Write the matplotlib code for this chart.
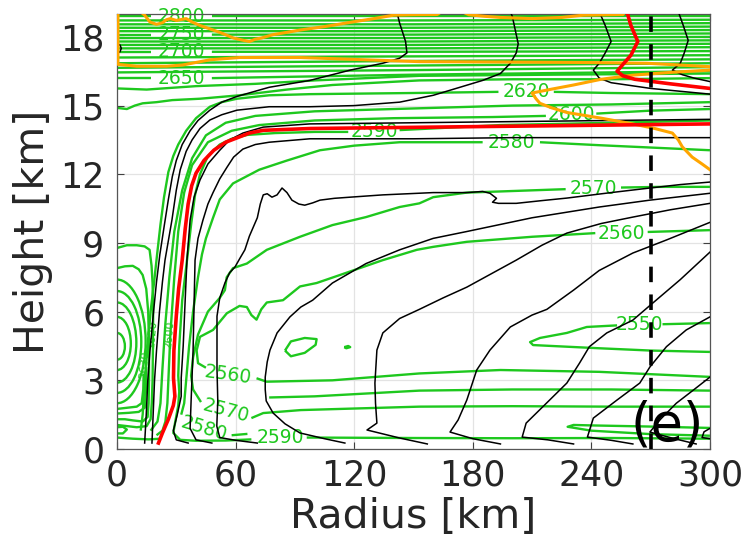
import numpy as np
import matplotlib
matplotlib.use("Agg")
import matplotlib.pyplot as plt
from matplotlib.patches import Arc

# colours
GREEN = '#1ec81e'
ORANGE = '#ffa500'
RED = '#ff0000'

# ---- black contours (radius km, height km) ----
k1 = [(14, 0.26), (14.8, 1.5), (15.6, 3.0), (16.7, 4.3), (18.5, 6.0), (20, 7.3), (21.7, 8.5), (24, 9.8),
      (26, 10.9), (28, 11.9), (30, 12.6), (33, 13.3), (37, 13.9), (41, 14.35), (47, 14.8), (53, 15.15),
      (60.7, 15.4), (77, 15.8), (97.6, 16.1), (118, 16.55), (134.5, 16.85), (143, 17.07), (146.7, 17.3),
      (146, 17.8), (144.7, 18.15), (143, 18.6), (141.6, 19.1)]
k2 = [(17.7, 0.26), (18.3, 1.5), (19, 3.0), (20, 4.3), (21.5, 6.0), (23, 7.3), (24.3, 8.25), (27.8, 10.0),
      (30, 11.3), (32, 12.2), (35, 13.0), (38, 13.5), (42, 14.0), (47, 14.37), (53, 14.6), (60.7, 14.8),
      (77, 14.95), (97.6, 14.95), (120, 15.0), (143, 15.15), (160, 15.45), (173.5, 15.8), (185, 16.1),
      (194, 16.4), (199, 16.85), (202, 17.3), (203, 17.7), (201.5, 18.3), (200, 18.9), (199, 19.1)]
k3 = [(36, 0.26), (30, 0.4), (28.5, 0.8), (30.5, 1.5), (32.5, 2.3), (32.5, 3.1), (33.5, 4.5), (34.5, 6.5),
      (35.4, 8.25), (37, 10.0), (39, 11.0), (42, 11.75), (46, 12.45), (52, 13.05), (57, 13.5), (63.7, 13.8),
      (74, 14.06), (97.6, 14.2), (150, 14.25), (200, 14.3), (250, 14.35), (300, 14.4)]
k4 = [(48, 0.26), (40, 0.4), (37, 0.9), (37.5, 2.1), (38.5, 4.3), (39, 6.3), (39.5, 8.25), (41, 9.2),
      (43.5, 10.0), (46, 10.7), (48.6, 11.2), (52, 11.8), (55.6, 12.3), (59, 12.75), (63.7, 13.1), (70, 13.3),
      (77, 13.4), (97.6, 13.55), (150, 13.55), (200, 13.6), (250, 13.6), (300, 13.6)]
k5 = [(71, 0.26), (60, 0.38), (52, 0.5), (50.5, 1.0), (51, 2.1), (50.6, 3.5), (50.6, 5.8), (52, 6.6),
      (54.6, 7.25), (57, 7.7), (59.7, 7.95), (62, 8.3), (64.7, 8.7), (67, 9.3), (71, 10.1), (72.5, 10.7),
      (74, 11.1), (76, 11.15), (78.4, 11.0), (81, 11.1), (83.5, 11.4), (86, 11.2), (88.5, 10.87), (92, 10.7),
      (95, 10.65), (99, 10.75), (102.7, 10.87), (110, 10.95), (118, 11.0), (134.5, 11.1), (160, 11.2),
      (177, 11.2), (185, 11.25), (188.7, 11.17), (192, 10.95), (190, 10.78), (193, 10.73), (202, 10.73),
      (215, 10.85), (227.6, 10.96), (250, 11.2), (269.6, 11.4), (285, 11.55), (300, 11.66)]
k6 = [(115.3, 0.26), (105, 0.45), (92.6, 0.7), (85, 1.1), (79, 1.57), (75.5, 2.1), (75, 2.6), (75, 3.14),
      (76, 3.8), (77.4, 4.32), (81, 5.07), (87.5, 5.77), (93, 6.2), (99, 6.5), (109, 7.25), (126, 8.1),
      (143, 8.7), (160, 9.2), (177, 9.5), (210, 10.1), (244, 10.57), (269.6, 10.87), (300, 11.17)]
k7 = [(157, 0.22), (143, 0.48), (126.5, 0.83), (131.5, 1.13), (130.8, 2.0), (130.5, 2.88), (131.5, 4.32),
      (134.5, 5.07), (143, 5.7), (153, 6.1), (165, 6.6), (177, 7.07), (202, 8.25), (215, 8.9), (227.6, 9.43),
      (245, 9.85), (261, 10.13), (280, 10.45), (300, 10.73)]
k8 = [(194, 0.22), (180, 0.45), (168.5, 0.74), (172.6, 1.27), (177, 2.14), (182, 3.45), (188.7, 4.32),
      (199, 5.33), (210, 5.85), (217.5, 6.1), (231, 6.94), (244, 7.8), (261, 8.56), (278, 9.13), (300, 9.9)]
k9 = [(231, 0.22), (218, 0.4), (205, 0.52), (207, 1.13), (215.5, 1.85), (227.6, 2.88), (234, 3.75),
      (239, 4.47), (247.8, 5.07), (261, 5.63), (271, 6.37), (285, 7.4), (300, 8.6)]
k10 = [(261, 0.22), (250, 0.38), (238, 0.52), (241, 1.35), (253, 2.14), (264.5, 2.88), (269.6, 3.58),
       (278, 4.47), (288, 5.2), (300, 5.77)]
k11 = [(293, 0.22), (282, 0.45), (269.6, 0.74), (275, 1.3), (283, 2.0), (292, 2.6), (300, 3.14)]
k12 = [(300, 0.45), (296, 0.5), (297, 0.75), (300, 0.9)]
k_top3 = [(244, 19.1), (247, 18.5), (250, 17.8), (247, 17.3), (244, 16.85), (241, 16.55), (244, 16.2),
          (250, 16.0), (270, 15.75), (300, 15.5)]
k_top4 = [(284, 19.1), (286.5, 18.5), (289, 17.85), (287, 17.3), (285, 16.85), (281, 16.55), (286, 16.35),
          (292, 16.2), (300, 16.05)]
k_edge = [(0, 17.7), (1.5, 17.65), (2.2, 17.5), (1.5, 17.35), (0, 17.3)]

# ---- red and orange contours ----
red_low = [(21, 0.26), (23, 0.7), (26, 1.3), (28.5, 1.9), (29.3, 2.3), (28.6, 3.1), (28.8, 4.3), (30, 5.8),
           (31.2, 7.0), (33, 8.25), (34.5, 9.6), (36, 10.7), (37.8, 11.5), (40, 12.05), (44, 12.6), (49, 13.05),
           (55, 13.4), (61, 13.6), (67, 13.8), (74, 13.92), (98, 14.0), (150, 14.05), (200, 14.1), (250, 14.15),
           (300, 14.2)]
red_top = [(258, 19.1), (260, 18.5), (263.5, 17.8), (260, 17.2), (255, 16.7), (253, 16.5), (256, 16.3),
           (262, 16.15), (280, 15.95), (300, 15.75)]
orange_a = [(0.5, 19.1), (0.5, 16.8), (10, 16.72), (25, 16.72), (33, 16.77), (47, 17.0), (62, 17.1), (92.6, 17.1),
            (126, 17.0), (153, 16.92), (202, 16.9), (240, 16.88), (268, 16.85), (300, 16.7)]
orange_b = [(12, 19.1), (14, 18.95), (16.7, 18.65), (20, 18.55), (23, 18.62), (25, 18.75), (27, 18.8),
            (30, 18.72), (35, 18.8), (38, 18.65), (42, 18.5), (47, 18.35), (52, 18.2), (59, 17.95), (64, 17.85),
            (67, 17.8), (70, 17.9), (73, 17.95), (79, 18.1), (86, 18.2), (92.6, 18.3), (105, 18.45), (119, 18.65),
            (130, 18.8), (140, 18.95), (150, 18.97), (162, 18.98), (166, 19.2)]
orange_b2 = [(172, 19.2), (178, 18.97), (186, 18.9), (194, 18.85), (210, 18.8), (225, 18.85), (236, 18.95),
             (256, 18.98), (258, 19.2)]
orange_c = [(300, 16.55), (280, 16.45), (261, 16.33), (245, 16.15), (231, 15.9), (220, 15.72), (210, 15.55),
            (212, 15.3), (214, 15.1), (220, 14.9), (227.6, 14.7), (245, 14.45), (261, 14.2), (272, 14.0),
            (281, 13.8), (284, 13.5), (286, 13.2), (291, 12.75), (296, 12.45), (300, 12.2)]
dash_r = 270

# ---- green contours (segments split where the inline labels sit) ----
g2550 = [[(300, 5.5), (276, 5.45)],
         [(253, 5.4), (237.7, 5.33), (227.6, 5.07), (214, 4.85), (209, 4.67), (210.5, 4.54), (220, 4.5),
          (244, 4.4), (270, 4.3), (300, 4.24)]]
g2560 = [[(300, 3.15), (244, 3.37), (194, 3.45), (153, 3.3), (109, 3.0), (75.7, 2.94), (70.6, 3.09)],
         [(45, 3.55), (41, 3.75), (40.3, 4.3), (42, 4.9), (48.6, 5.2), (55.6, 5.93), (62, 6.25), (65.7, 6.2),
          (68, 5.85), (70.6, 5.65), (73, 6.1), (75.8, 6.4), (84, 6.5), (92.6, 7.1), (101, 7.25), (112.8, 7.6),
          (134.5, 8.25), (151.7, 8.7), (160, 8.83), (177, 9.05), (210, 9.27), (242, 9.43)],
         [(268.5, 9.48), (300, 9.56)]]
g2570 = [[(300, 1.85), (250, 1.85), (200, 1.87), (153, 1.85), (93, 1.7), (74, 1.57), (68, 1.35)],
         [(42.5, 2.05), (38.5, 2.6), (37.5, 3.2), (38.5, 4.0), (41, 5.0), (46, 6.0), (52, 6.6), (54.6, 6.94),
          (55.5, 7.5), (58.7, 7.9), (65.7, 8.1), (75.8, 8.7), (92.6, 9.27), (109, 9.78), (126, 10.13),
          (143, 10.57), (153, 10.73), (160, 11.0), (177, 11.2), (194, 11.25), (227, 11.35)],
         [(255, 11.42), (275, 11.45), (300, 11.45)]]
g2580 = [[(300, 13.05), (244, 13.27), (214, 13.4)],
         [(185, 13.4), (143, 13.4), (120, 13.25), (102.7, 13.05), (86, 12.6), (72, 12.2), (58.7, 11.6),
          (52, 10.9), (48.6, 10.1), (45, 9.2), (43, 8.5), (41, 7.5), (38.5, 6.0), (36.5, 4.5), (35, 3.0),
          (34, 2.0), (32.5, 1.5)],
         [(58, 0.6), (66, 0.66)]]
g2590 = [[(300, 0.45), (250, 0.48), (200, 0.47), (150, 0.48), (96, 0.5)],
         [(68, 0.42), (55, 0.37), (40, 0.36), (32, 0.4), (28.5, 0.7), (29.5, 1.2), (31, 1.9), (31.5, 2.5),
          (31, 3.2), (31.5, 4.5), (33, 6.5), (35.5, 8.3), (37.5, 9.8), (39.5, 11.1), (42, 12.0), (46, 12.8),
          (52, 13.3), (58, 13.55), (66, 13.72), (80, 13.8), (100, 13.85), (117, 13.85)],
         [(143, 13.93), (194, 14.15), (250, 14.25), (300, 14.35)]]
g2600 = [[(300, 14.85), (270, 14.78), (242.5, 14.65)],
         [(217, 14.55), (190, 14.5), (140, 14.45), (100, 14.35), (72, 14.15), (58, 13.9), (46, 13.4), (38, 12.4),
          (34, 11.2), (31, 9.5), (29, 7.5), (27, 5.0), (26, 3.0), (25.5, 2.0), (24.5, 1.2), (23, 0.8), (20, 0.6)]]
g2610 = [[(300, 15.15), (250, 15.05), (200, 15.0), (140, 14.85), (100, 14.75), (70, 14.55), (55, 14.25),
          (45, 13.7), (38, 12.7), (33, 11.3), (29, 9.5), (26.5, 7.5), (24.5, 5.5), (23, 3.5), (22, 2.0),
          (20.5, 1.2), (17, 0.8)]]
g2620 = [[(12, 0.8), (13, 1.5), (14, 3.0), (15.5, 4.5), (17, 6.0), (18.8, 7.3), (20.3, 8.5), (22, 9.8),
          (23.8, 11.0), (26, 12.1), (28.5, 12.8), (31, 13.3), (35, 13.9), (40, 14.45), (47, 14.95), (53, 15.15),
          (60.7, 15.3), (77, 15.45), (97.6, 15.5), (150, 15.55), (193, 15.6)],
         [(221, 15.6), (250, 15.55), (300, 15.5)]]
g2630 = [[(0, 14.9), (5, 14.85), (9, 15.0), (13, 15.1), (20, 15.15), (28, 15.24), (42, 15.3), (62, 15.45),
          (86, 15.7), (109, 15.9), (153, 16.1), (200, 16.15), (250, 16.15), (300, 16.2)]]
g2640 = [[(0, 15.75), (15, 15.7), (40, 15.85), (70, 15.95), (100, 16.1), (153, 16.3), (220, 16.35), (300, 16.4)]]
g_row = [[(77, 2.25), (100, 2.3), (153, 2.55), (200, 2.6), (250, 2.6), (300, 2.55)]]
g_tongue = [[(300, 0.92), (270, 0.98), (240, 1.03), (231, 1.05), (228, 0.97), (240, 0.8), (270, 0.65), (300, 0.58)]]
g_lens = [[(85, 4.3), (88, 4.7), (95, 4.85), (101, 4.8), (100.5, 4.55), (95, 4.2), (88, 4.05), (85, 4.3)]]
g_dot = [[(115, 4.45), (117, 4.5), (118, 4.45), (116, 4.4), (115, 4.45)]]
g_outer1 = [[(0, 7.9), (4, 7.98), (8, 8.0), (11, 7.85), (13, 7.6), (14.8, 7.0), (15.8, 6.0), (16.2, 4.5),
             (16.2, 3.0), (16, 2.0), (15.5, 1.4), (13, 1.2), (8, 1.25), (4, 1.3), (0, 1.3)]]
g_outer2 = [[(0, 8.78), (5, 8.9), (10, 8.9), (14, 8.85), (16.5, 8.7), (17.5, 8.0), (18, 7.25), (18.3, 6.0),
             (18.2, 4.5), (18, 3.0), (17.6, 2.0), (17, 1.3), (15, 1.0), (10, 0.95), (5, 1.0), (0, 1.05)]]
g_surf = [[(0, 1.75), (5, 1.8), (10, 1.85), (12.5, 2.0), (13.3, 2.6), (13.5, 3.3)],
          [(0, 1.55), (6, 1.58), (11, 1.62), (14, 1.8), (14.6, 2.5), (14.8, 3.6)],
          [(0, 0.95), (3, 0.97), (5, 0.85), (3, 0.68), (0, 0.68)],
          [(0, 0.5), (8, 0.45), (16, 0.42), (22, 0.45)]]

# closed rings at the axis (top, bottom, outer radius)
ring_top = [5.07, 5.77, 6.4, 6.9, 7.4]
ring_bot = [3.9, 3.45, 2.9, 2.45, 2.0]
ring_r = [4.0, 7.0, 9.8, 12.3, 14.5]

# dense band aloft: values and heights at r = 0, 150, 300
band_vals = list(range(2650, 2810, 10)) + [2810]
band_z0 = [16.2, 16.45, 16.65, 16.85, 17.1, 17.35, 17.5, 17.65, 17.8, 17.95, 18.1, 18.25, 18.4, 18.55, 18.72, 18.9, 19.05]
band_z1 = [16.35, 16.55, 16.75, 16.95, 17.15, 17.35, 17.5, 17.65, 17.8, 17.95, 18.1, 18.25, 18.4, 18.55, 18.72, 18.9, 19.05]
band_z2 = [16.5, 16.68, 16.85, 17.02, 17.2, 17.38, 17.55, 17.7, 17.85, 18.0, 18.15, 18.3, 18.45, 18.6, 18.75, 18.9, 19.05]
band_labelled = [2650, 2700, 2750, 2800]

# inline labels: text, r, z, rotation
labels = [('2800', 32.5, 18.9, 0), ('2750', 32.5, 18.1, 0), ('2700', 32.5, 17.35, 0), ('2650', 32.5, 16.2, 0),
          ('2620', 207, 15.6, 0), ('2600', 230, 14.6, 0), ('2590', 130, 13.85, 0), ('2580', 199.5, 13.4, 0),
          ('2570', 241, 11.4, 0), ('2560', 255, 9.43, 0), ('2550', 264.5, 5.42, 0),
          ('2560', 56, 3.25, -8), ('2570', 55, 1.65, -15), ('2580', 44, 0.9, -17), ('2590', 82.5, 0.5, 0)]
side_labels = [('2630', 13.8, 3.7, 85), ('2620', 17.8, 5.0, 85), ('2600', 26.5, 5.0, 85)]


def draw(ax, pts, **kw):
    r, z = zip(*pts)
    ax.plot(r, z, **kw)


fig = plt.figure(figsize=(7.47, 5.52), dpi=100)
ax = fig.add_axes([0.1566, 0.1866, 0.7938, 0.788])

# green field
gkw = dict(color=GREEN, lw=1.7, zorder=2, solid_capstyle='butt')
for group in [g2550, g2560, g2570, g2580, g2590, g2600, g2610, g2620, g2630, g2640, g_row, g_tongue,
              g_lens, g_dot, g_outer1, g_outer2, g_surf]:
    for seg in group:
        draw(ax, seg, **gkw)

for top, bot, rr in zip(ring_top, ring_bot, ring_r):
    ax.add_patch(Arc((0, (top + bot) / 2), 2 * rr, top - bot, theta1=-90, theta2=90,
                     color=GREEN, lw=1.7, zorder=2))

for v, z0, z1, z2 in zip(band_vals, band_z0, band_z1, band_z2):
    if v in band_labelled:
        draw(ax, [(0, z0), (17, z0)], **gkw)
        draw(ax, [(48, z0), (150, z1), (300, z2)], **gkw)
    else:
        draw(ax, [(0, z0), (150, z1), (300, z2)], **gkw)

for txt, r, z, rot in labels:
    ax.text(r, z, txt, color=GREEN, fontsize=13.5, ha='center', va='center', rotation=rot, zorder=1.5)
for txt, r, z, rot in side_labels:
    ax.text(r, z, txt, color=GREEN, fontsize=8, ha='center', va='center', rotation=rot, zorder=1.5)

# black contours
for line in [k1, k2, k3, k4, k5, k6, k7, k8, k9, k10, k11, k12, k_top3, k_top4, k_edge]:
    draw(ax, line, color='black', lw=1.1, zorder=3)

# orange and red
for line in [orange_a, orange_b, orange_b2, orange_c]:
    draw(ax, line, color=ORANGE, lw=2.2, zorder=4)
for line in [red_low, red_top]:
    draw(ax, line, color=RED, lw=2.6, zorder=5)

ax.plot([dash_r, dash_r], [0, 19], color='black', lw=2.6, dashes=(4.3, 3.4), zorder=6)

ax.text(0.99, -0.005, '(e)', transform=ax.transAxes, ha='right', va='bottom', fontsize=38, zorder=7)

ax.set_xlim(0, 300)
ax.set_ylim(0, 19)
ax.set_xticks([0, 60, 120, 180, 240, 300])
ax.set_yticks([0, 3, 6, 9, 12, 15, 18])
ax.grid(True, color='#e3e3e3', lw=0.9)
ax.set_axisbelow(True)
ax.tick_params(direction='in', top=True, right=True, length=5, width=0.8, colors='#404040',
               labelsize=25, labelcolor='#262626')
ax.tick_params(axis='y', pad=9)
ax.tick_params(axis='x', pad=7)
for s in ax.spines.values():
    s.set_color('#555555')
    s.set_linewidth(0.9)
ax.set_xlabel('Radius [km]', fontsize=29.5, color='#262626', labelpad=3)
ax.set_ylabel('Height [km]', fontsize=29.5, color='#262626', labelpad=5)

fig.savefig('out.png', dpi=100)
